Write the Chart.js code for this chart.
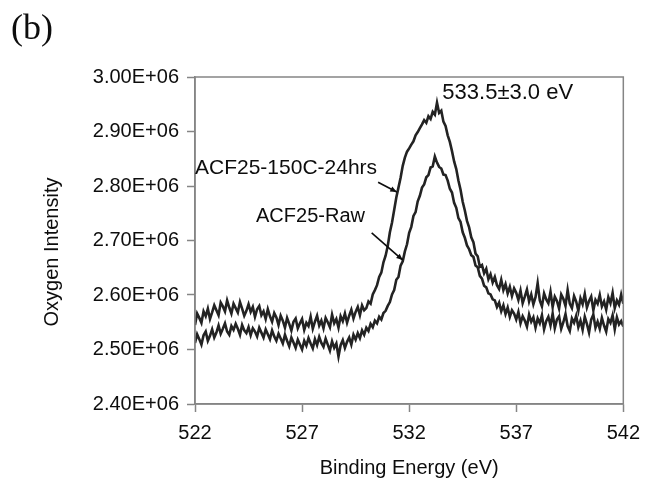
<!DOCTYPE html>
<html>
<head>
<meta charset="utf-8">
<script src="https://cdn.jsdelivr.net/npm/chart.js@4.4.0/dist/chart.umd.min.js"></script>
<style>
  html, body { margin: 0; padding: 0; background: #fff; }
</style>
</head>
<body>
<canvas id="xpsChart" width="649" height="480"></canvas>
<script>
// binding energy (eV), 0.1 eV steps
const energy = [
  522.0, 522.1, 522.2, 522.3, 522.4, 522.5, 522.6, 522.7, 522.8, 522.9,
  523.0, 523.1, 523.2, 523.3, 523.4, 523.5, 523.6, 523.7, 523.8, 523.9,
  524.0, 524.1, 524.2, 524.3, 524.4, 524.5, 524.6, 524.7, 524.8, 524.9,
  525.0, 525.1, 525.2, 525.3, 525.4, 525.5, 525.6, 525.7, 525.8, 525.9,
  526.0, 526.1, 526.2, 526.3, 526.4, 526.5, 526.6, 526.7, 526.8, 526.9,
  527.0, 527.1, 527.2, 527.3, 527.4, 527.5, 527.6, 527.7, 527.8, 527.9,
  528.0, 528.1, 528.2, 528.3, 528.4, 528.5, 528.6, 528.7, 528.8, 528.9,
  529.0, 529.1, 529.2, 529.3, 529.4, 529.5, 529.6, 529.7, 529.8, 529.9,
  530.0, 530.1, 530.2, 530.3, 530.4, 530.5, 530.6, 530.7, 530.8, 530.9,
  531.0, 531.1, 531.2, 531.3, 531.4, 531.5, 531.6, 531.7, 531.8, 531.9,
  532.0, 532.1, 532.2, 532.3, 532.4, 532.5, 532.6, 532.7, 532.8, 532.9,
  533.0, 533.1, 533.2, 533.3, 533.4, 533.5, 533.6, 533.7, 533.8, 533.9,
  534.0, 534.1, 534.2, 534.3, 534.4, 534.5, 534.6, 534.7, 534.8, 534.9,
  535.0, 535.1, 535.2, 535.3, 535.4, 535.5, 535.6, 535.7, 535.8, 535.9,
  536.0, 536.1, 536.2, 536.3, 536.4, 536.5, 536.6, 536.7, 536.8, 536.9,
  537.0, 537.1, 537.2, 537.3, 537.4, 537.5, 537.6, 537.7, 537.8, 537.9,
  538.0, 538.1, 538.2, 538.3, 538.4, 538.5, 538.6, 538.7, 538.8, 538.9,
  539.0, 539.1, 539.2, 539.3, 539.4, 539.5, 539.6, 539.7, 539.8, 539.9,
  540.0, 540.1, 540.2, 540.3, 540.4, 540.5, 540.6, 540.7, 540.8, 540.9,
  541.0, 541.1, 541.2, 541.3, 541.4, 541.5, 541.6, 541.7, 541.8, 541.9,
  542.0
];

// oxygen intensity, in units of 1E+06 counts
const treated = [
  2.545, 2.566, 2.558, 2.549, 2.570, 2.561, 2.575, 2.556, 2.568, 2.581,
  2.572, 2.563, 2.586, 2.579, 2.570, 2.590, 2.577, 2.566, 2.584, 2.576,
  2.568, 2.587, 2.575, 2.562, 2.571, 2.583, 2.569, 2.578, 2.560, 2.574,
  2.580, 2.563, 2.570, 2.556, 2.574, 2.561, 2.551, 2.567, 2.559, 2.545,
  2.562, 2.553, 2.540, 2.558, 2.547, 2.535, 2.551, 2.557, 2.539, 2.548,
  2.556, 2.536, 2.549, 2.543, 2.560, 2.538, 2.551, 2.562, 2.544, 2.553,
  2.539, 2.558, 2.550, 2.541, 2.564, 2.548, 2.556, 2.540, 2.561, 2.552,
  2.566, 2.549, 2.562, 2.573, 2.557, 2.569, 2.578, 2.563, 2.581, 2.572,
  2.576, 2.588, 2.584, 2.601, 2.609, 2.618, 2.633, 2.641, 2.660, 2.672,
  2.690, 2.715, 2.733, 2.756, 2.779, 2.797, 2.815, 2.837, 2.852, 2.863,
  2.869, 2.876, 2.882, 2.893, 2.899, 2.906, 2.913, 2.921, 2.916, 2.928,
  2.923, 2.936, 2.931, 2.953, 2.934, 2.938, 2.918, 2.910, 2.893, 2.881,
  2.864, 2.845, 2.831, 2.810, 2.793, 2.771, 2.755, 2.736, 2.724, 2.706,
  2.697, 2.676, 2.671, 2.652, 2.655, 2.640, 2.648, 2.629, 2.638, 2.623,
  2.633, 2.618, 2.611, 2.628, 2.609, 2.620, 2.603, 2.615, 2.598, 2.612,
  2.604, 2.591, 2.608, 2.585, 2.597, 2.610, 2.588, 2.601, 2.583, 2.596,
  2.622, 2.590, 2.579, 2.603, 2.592, 2.585, 2.606, 2.578, 2.597, 2.589,
  2.575, 2.601, 2.593, 2.580, 2.609, 2.584, 2.576, 2.598, 2.588, 2.571,
  2.594, 2.583, 2.602, 2.577, 2.589, 2.597, 2.572, 2.591, 2.584, 2.600,
  2.579, 2.588, 2.573, 2.596, 2.585, 2.604, 2.576, 2.590, 2.582, 2.601,
  2.584
];

const raw = [
  2.512, 2.528, 2.519, 2.509, 2.526, 2.533, 2.516, 2.525, 2.537, 2.522,
  2.531, 2.544, 2.529, 2.538, 2.548, 2.533, 2.527, 2.543, 2.536, 2.547,
  2.538, 2.527, 2.545, 2.535, 2.530, 2.541, 2.526, 2.539, 2.533, 2.524,
  2.540, 2.531, 2.522, 2.537, 2.528, 2.519, 2.535, 2.524, 2.516, 2.529,
  2.520, 2.511, 2.527, 2.516, 2.506, 2.522, 2.513, 2.503, 2.518, 2.509,
  2.500, 2.516, 2.507, 2.521, 2.511, 2.502, 2.519, 2.508, 2.523, 2.512,
  2.505, 2.520, 2.509, 2.498, 2.515, 2.503, 2.511, 2.487, 2.508, 2.517,
  2.503, 2.514, 2.522, 2.509, 2.527, 2.518, 2.530, 2.521, 2.535, 2.527,
  2.540, 2.534, 2.547, 2.541, 2.553, 2.548, 2.560, 2.555, 2.567, 2.571,
  2.580, 2.587, 2.601, 2.609, 2.628, 2.633, 2.654, 2.662, 2.680, 2.693,
  2.714, 2.725, 2.745, 2.752, 2.772, 2.782, 2.797, 2.803, 2.816, 2.820,
  2.834, 2.836, 2.854, 2.843, 2.835, 2.832, 2.821, 2.820, 2.810, 2.795,
  2.788, 2.769, 2.760, 2.741, 2.734, 2.715, 2.705, 2.691, 2.684, 2.673,
  2.670, 2.654, 2.651, 2.635, 2.630, 2.617, 2.614, 2.603, 2.601, 2.592,
  2.590, 2.578, 2.586, 2.570, 2.581, 2.565, 2.577, 2.560, 2.572, 2.566,
  2.555, 2.569, 2.548, 2.561, 2.553, 2.542, 2.564, 2.551, 2.559, 2.540,
  2.557, 2.548, 2.563, 2.537, 2.552, 2.560, 2.544, 2.566, 2.539, 2.555,
  2.561, 2.538, 2.550, 2.565, 2.543, 2.534, 2.557, 2.549, 2.562, 2.541,
  2.553, 2.536, 2.560, 2.547, 2.531, 2.555, 2.564, 2.540, 2.551, 2.538,
  2.558, 2.544, 2.533, 2.556, 2.549, 2.563, 2.537, 2.559, 2.546, 2.552,
  2.542
];

const xTicks = [522, 527, 532, 537, 542];
const yMin = 2.4, yMax = 3.0;

const font = 'Liberation Sans, Arial, sans-serif';
const ink = '#0d0d0d';
const axisGray = '#858585';

// labels and arrows, placed in data coordinates [energy, intensity]
const annotations = [
  { text: '533.5\u00b13.0 eV', at: [533.55, 2.970], size: 22 },
  { text: 'ACF25-150C-24hrs', at: [522.0, 2.833], size: 21 },
  { text: 'ACF25-Raw', at: [524.85, 2.744], size: 20 }
];
const arrows = [
  { from: [530.55, 2.807], to: [531.42, 2.789] },
  { from: [530.25, 2.714], to: [531.70, 2.664] }
];

function toPoints(ys) {
  return energy.map((e, i) => ({ x: e, y: ys[i] }));
}

const decorate = {
  id: 'decorate',
  afterDatasetsDraw(chart) {
    const { ctx, chartArea: a, scales: { x, y } } = chart;
    ctx.save();

    // frame around plot area
    ctx.strokeStyle = axisGray;
    ctx.lineWidth = 1.5;
    ctx.strokeRect(a.left, a.top, a.right - a.left, a.bottom - a.top);

    ctx.fillStyle = ink;
    ctx.textBaseline = 'middle';
    ctx.textAlign = 'left';
    annotations.forEach(t => {
      ctx.font = t.size + 'px ' + font;
      ctx.fillText(t.text, x.getPixelForValue(t.at[0]), y.getPixelForValue(t.at[1]));
    });

    ctx.strokeStyle = ink;
    ctx.lineWidth = 1.6;
    arrows.forEach(ar => {
      const x0 = x.getPixelForValue(ar.from[0]), y0 = y.getPixelForValue(ar.from[1]);
      const x1 = x.getPixelForValue(ar.to[0]), y1 = y.getPixelForValue(ar.to[1]);
      const ang = Math.atan2(y1 - y0, x1 - x0);
      ctx.beginPath();
      ctx.moveTo(x0, y0);
      ctx.lineTo(x1, y1);
      ctx.stroke();
      ctx.beginPath();
      ctx.moveTo(x1, y1);
      ctx.lineTo(x1 - 7 * Math.cos(ang - 0.4), y1 - 7 * Math.sin(ang - 0.4));
      ctx.lineTo(x1 - 7 * Math.cos(ang + 0.4), y1 - 7 * Math.sin(ang + 0.4));
      ctx.closePath();
      ctx.fill();
    });

    // y axis title
    ctx.save();
    ctx.translate(52, 252);
    ctx.rotate(-Math.PI / 2);
    ctx.textAlign = 'center';
    ctx.font = '20px ' + font;
    ctx.fillText('Oxygen Intensity', 0, 0);
    ctx.restore();

    // panel letter
    ctx.font = '36px "Liberation Serif", "Times New Roman", serif';
    ctx.textAlign = 'left';
    ctx.fillText('(b)', 11, 30);

    ctx.restore();
  }
};

const ctx = document.getElementById('xpsChart').getContext('2d');
new Chart(ctx, {
  type: 'line',
  data: {
    datasets: [{
      label: 'ACF25-150C-24hrs',
      data: toPoints(treated),
      borderColor: '#232323',
      borderWidth: 2.6,
      pointRadius: 0,
      tension: 0
    }, {
      label: 'ACF25-Raw',
      data: toPoints(raw),
      borderColor: '#232323',
      borderWidth: 2.6,
      pointRadius: 0,
      tension: 0
    }]
  },
  options: {
    responsive: false,
    animation: false,
    events: [],
    layout: { padding: { top: 77, right: 20, left: 0, bottom: 0 } },
    plugins: {
      legend: { display: false },
      tooltip: { enabled: false }
    },
    scales: {
      x: {
        type: 'linear',
        min: xTicks[0],
        max: xTicks[xTicks.length - 1],
        afterBuildTicks: s => { s.ticks = xTicks.map(v => ({ value: v })); },
        afterFit: s => { s.height = 76; },
        ticks: { color: ink, font: { family: font, size: 20 }, padding: 9, maxRotation: 0 },
        grid: { drawOnChartArea: false, tickLength: 8, color: axisGray, tickWidth: 1.5 },
        border: { color: axisGray, width: 1.5 },
        title: {
          display: true,
          text: 'Binding Energy (eV)',
          color: ink,
          font: { family: font, size: 20 },
          padding: { top: 0, bottom: 0 }
        }
      },
      y: {
        min: yMin,
        max: yMax,
        afterFit: s => { s.width = 195; },
        ticks: {
          stepSize: 0.1,
          color: ink,
          padding: 8,
          font: { family: font, size: 20 },
          callback: v => v.toFixed(2) + 'E+06'
        },
        grid: { drawOnChartArea: false, tickLength: 8, color: axisGray, tickWidth: 1.5 },
        border: { color: axisGray, width: 1.5 }
      }
    }
  },
  plugins: [decorate]
});
</script>
</body>
</html>
